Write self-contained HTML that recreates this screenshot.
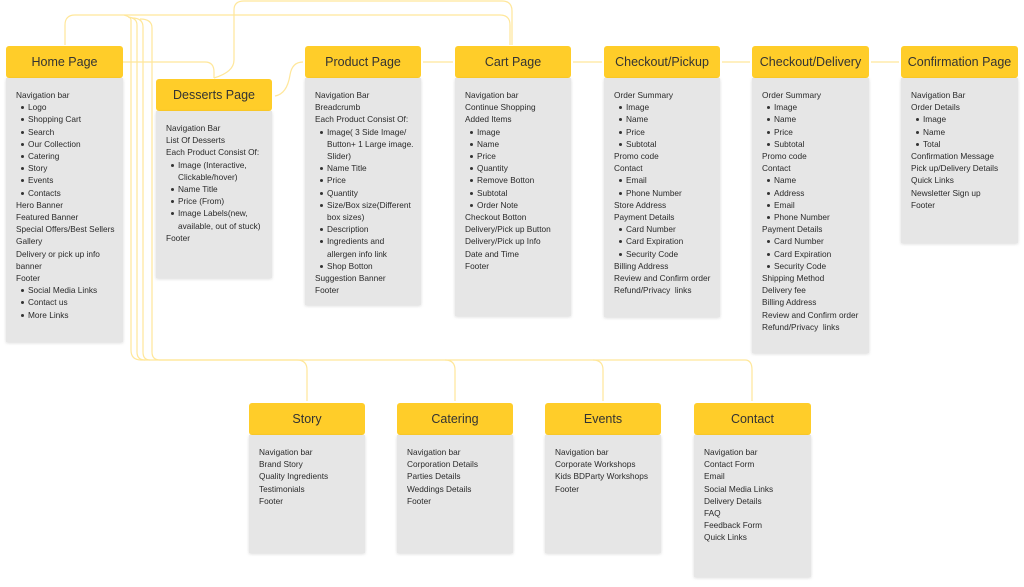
<!DOCTYPE html>
<html><head><meta charset="utf-8"><style>
body{margin:0;width:1024px;height:587px;background:#fff;position:relative;overflow:hidden;font-family:"Liberation Sans",sans-serif;}
.h{position:absolute;height:32px;background:#ffcd29;border-radius:3px;font-size:12.5px;color:#333;display:flex;align-items:center;justify-content:center;}
.b{position:absolute;background:#e6e6e6;box-shadow:0 1px 3px rgba(0,0,0,.15);font-size:8.3px;color:#2a2a2a;line-height:12.2px;padding:11px 0 0 10px;box-sizing:border-box;}
.b div{white-space:nowrap}
.b .l{padding-left:12px;position:relative}
.b .l:before{content:"";position:absolute;left:5px;top:5px;width:3px;height:3px;border-radius:50%;background:#333}
.b .c{padding-left:12px}
svg{position:absolute;left:0;top:0}
</style></head><body>
<svg width="1024" height="587" fill="none" stroke="#ffe79a" stroke-width="1.2">
<path d="M65 45 V25 Q65 15 75 15 H500 Q510 15 510 25 V45"/>
<path d="M214 78 Q234 72 234 60 V10 Q234 1 244 1 H502 Q512 1 512 11 V45"/>
<path d="M131 20 Q131 17 124 15 M131 20 V350 Q131 360 141 360 H297 Q307 360 307 370 V401"/>
<path d="M137 25 Q137 18 128 17 V17 M137 25 V352 Q137 360 145 360"/>
<path d="M143 27 Q143 18 132 18 M143 27 V352 Q143 360 150 360"/>
<path d="M152 28 Q152 19 140 19 M152 28 V352 Q152 360 160 360 H745 Q752 360 752 370 V401"/>
<path d="M445 360 Q455 360 455 370 V401 M593 360 Q603 360 603 370 V401"/>
<path d="M123 62 H205 Q214 62 214 72 V78"/>
<path d="M275 96 Q287 94 290 75 Q292 62 303 62"/>
<path d="M423 62 H453 M573 62 H602 M722 62 H750 M871 62 H899"/>
</svg>
<div class="h" style="left:6px;top:46px;width:117px">Home Page</div>
<div class="b" style="left:6px;top:78px;width:117px;height:264px">
<div>Navigation bar</div><div class="l">Logo</div><div class="l">Shopping Cart</div><div class="l">Search</div><div class="l">Our Collection</div><div class="l">Catering</div><div class="l">Story</div><div class="l">Events</div><div class="l">Contacts</div><div>Hero Banner</div><div>Featured Banner</div><div>Special Offers/Best Sellers</div><div>Gallery</div><div>Delivery or pick up info</div><div>banner</div><div>Footer</div><div class="l">Social Media Links</div><div class="l">Contact us</div><div class="l">More Links</div></div>

<div class="h" style="left:156px;top:79px;width:116px">Desserts Page</div>
<div class="b" style="left:156px;top:111px;width:116px;height:167px">
<div>Navigation Bar</div><div>List Of Desserts</div><div>Each Product Consist Of:</div><div class="l">Image (Interactive,</div><div class="c">Clickable/hover)</div><div class="l">Name Title</div><div class="l">Price (From)</div><div class="l">Image Labels(new,</div><div class="c">available, out of stuck)</div><div>Footer</div></div>

<div class="h" style="left:305px;top:46px;width:116px">Product Page</div>
<div class="b" style="left:305px;top:78px;width:116px;height:227px">
<div>Navigation Bar</div><div>Breadcrumb</div><div>Each Product Consist Of:</div><div class="l">Image( 3 Side Image/</div><div class="c">Button+ 1 Large image.</div><div class="c">Slider)</div><div class="l">Name Title</div><div class="l">Price</div><div class="l">Quantity</div><div class="l">Size/Box size(Different</div><div class="c">box sizes)</div><div class="l">Description</div><div class="l">Ingredients and</div><div class="c">allergen info link</div><div class="l">Shop Botton</div><div>Suggestion Banner</div><div>Footer</div></div>

<div class="h" style="left:455px;top:46px;width:116px">Cart Page</div>
<div class="b" style="left:455px;top:78px;width:116px;height:238px">
<div>Navigation bar</div><div>Continue Shopping</div><div>Added Items</div><div class="l">Image</div><div class="l">Name</div><div class="l">Price</div><div class="l">Quantity</div><div class="l">Remove Botton</div><div class="l">Subtotal</div><div class="l">Order Note</div><div>Checkout Botton</div><div>Delivery/Pick up Button</div><div>Delivery/Pick up Info</div><div>Date and Time</div><div>Footer</div></div>

<div class="h" style="left:604px;top:46px;width:116px">Checkout/Pickup</div>
<div class="b" style="left:604px;top:78px;width:116px;height:239px">
<div>Order Summary</div><div class="l">Image</div><div class="l">Name</div><div class="l">Price</div><div class="l">Subtotal</div><div>Promo code</div><div>Contact</div><div class="l">Email</div><div class="l">Phone Number</div><div>Store Address</div><div>Payment Details</div><div class="l">Card Number</div><div class="l">Card Expiration</div><div class="l">Security Code</div><div>Billing Address</div><div>Review and Confirm order</div><div>Refund/Privacy&nbsp; links</div></div>

<div class="h" style="left:752px;top:46px;width:117px">Checkout/Delivery</div>
<div class="b" style="left:752px;top:78px;width:117px;height:275px">
<div>Order Summary</div><div class="l">Image</div><div class="l">Name</div><div class="l">Price</div><div class="l">Subtotal</div><div>Promo code</div><div>Contact</div><div class="l">Name</div><div class="l">Address</div><div class="l">Email</div><div class="l">Phone Number</div><div>Payment Details</div><div class="l">Card Number</div><div class="l">Card Expiration</div><div class="l">Security Code</div><div>Shipping Method</div><div>Delivery fee</div><div>Billing Address</div><div>Review and Confirm order</div><div>Refund/Privacy&nbsp; links</div></div>

<div class="h" style="left:901px;top:46px;width:117px">Confirmation Page</div>
<div class="b" style="left:901px;top:78px;width:117px;height:165px">
<div>Navigation Bar</div><div>Order Details</div><div class="l">Image</div><div class="l">Name</div><div class="l">Total</div><div>Confirmation Message</div><div>Pick up/Delivery Details</div><div>Quick Links</div><div>Newsletter Sign up</div><div>Footer</div></div>

<div class="h" style="left:249px;top:403px;width:116px">Story</div>
<div class="b" style="left:249px;top:435px;width:116px;height:118px">
<div>Navigation bar</div><div>Brand Story</div><div>Quality Ingredients</div><div>Testimonials</div><div>Footer</div></div>

<div class="h" style="left:397px;top:403px;width:116px">Catering</div>
<div class="b" style="left:397px;top:435px;width:116px;height:118px">
<div>Navigation bar</div><div>Corporation Details</div><div>Parties Details</div><div>Weddings Details</div><div>Footer</div></div>

<div class="h" style="left:545px;top:403px;width:116px">Events</div>
<div class="b" style="left:545px;top:435px;width:116px;height:118px">
<div>Navigation bar</div><div>Corporate Workshops</div><div>Kids BDParty Workshops</div><div>Footer</div></div>

<div class="h" style="left:694px;top:403px;width:117px">Contact</div>
<div class="b" style="left:694px;top:435px;width:117px;height:142px">
<div>Navigation bar</div><div>Contact Form</div><div>Email</div><div>Social Media Links</div><div>Delivery Details</div><div>FAQ</div><div>Feedback Form</div><div>Quick Links</div></div>
</body></html>
